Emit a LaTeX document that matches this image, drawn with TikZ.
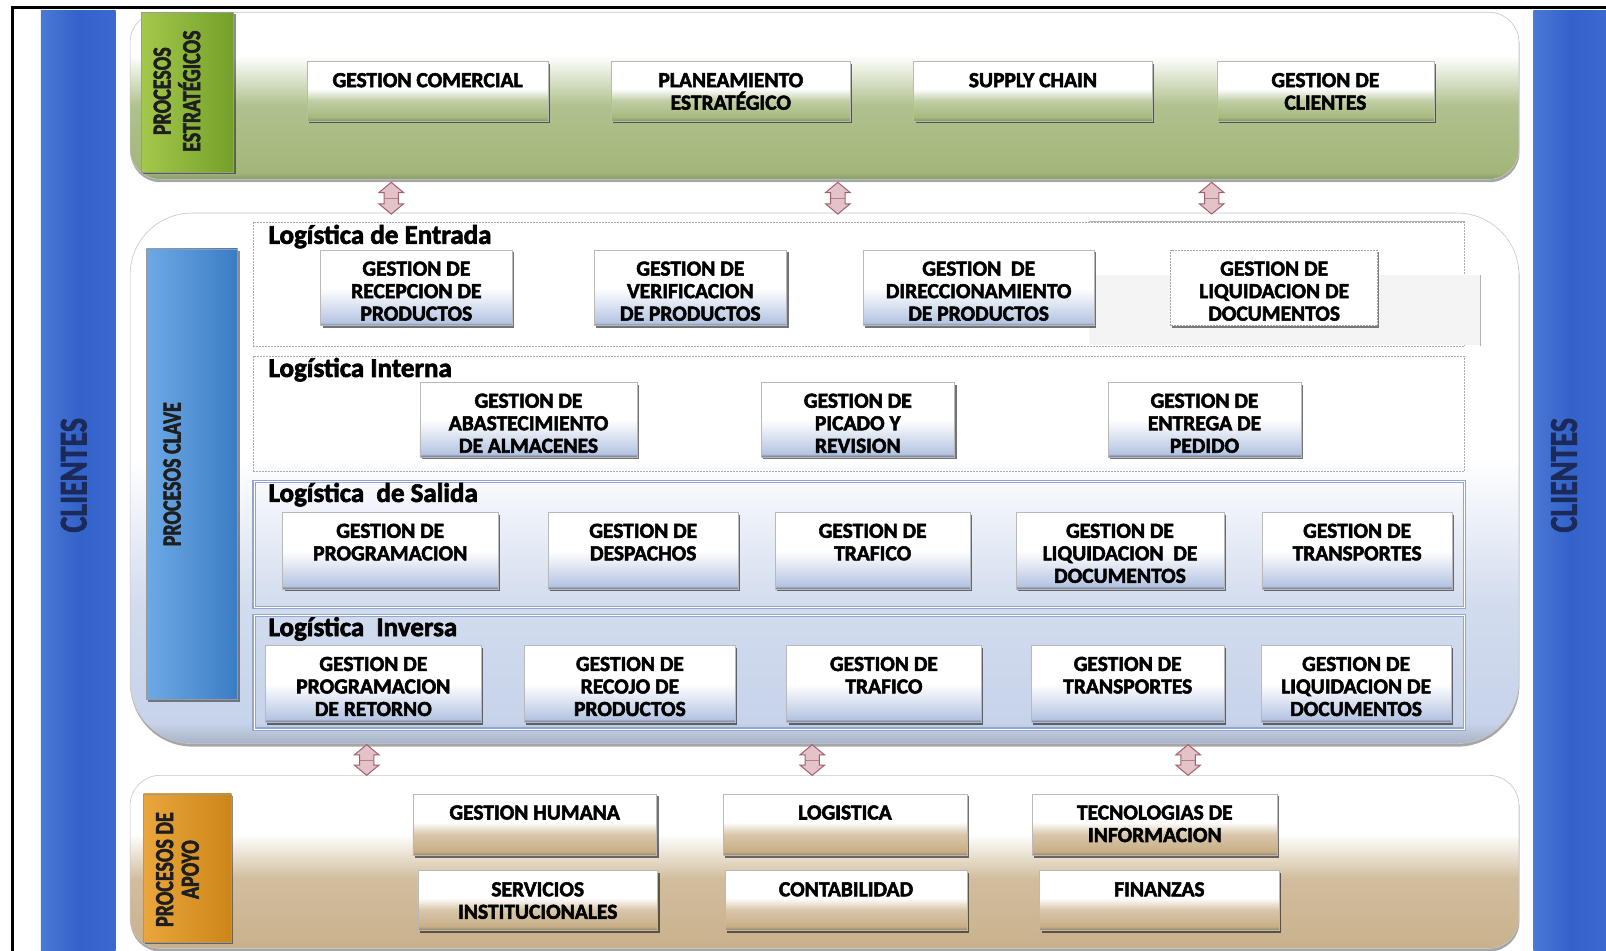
\documentclass[tikz,border=0pt]{standalone}
\usepackage{fontspec}
\setmainfont{Carlito}[BoldFont={Carlito Bold}, BoldFeatures={FakeBold=2.4}]
\usetikzlibrary{shadows,fit,calc}

% palette
\definecolor{cbL}{HTML}{4A78D6}
\definecolor{cbM}{HTML}{3363CA}
\definecolor{cbR}{HTML}{3A6AD0}
\definecolor{cltext}{HTML}{1B2A58}
\definecolor{gpanel}{HTML}{A2B67A}
\definecolor{gboxb}{HTML}{A6B97E}
\definecolor{glabL}{HTML}{A3C84B}
\definecolor{glabR}{HTML}{74A02A}
\definecolor{bpanel}{HTML}{C7D3EA}
\definecolor{bboxb}{HTML}{B4C4E2}
\definecolor{blabL}{HTML}{6DA9E4}
\definecolor{blabR}{HTML}{3A7CC4}
\definecolor{subline}{HTML}{93A6CC}
\definecolor{tpanel}{HTML}{C9B18C}
\definecolor{tboxb}{HTML}{C8AE86}
\definecolor{olabL}{HTML}{EAA63C}
\definecolor{olabR}{HTML}{CC8518}
\definecolor{arrfill}{HTML}{E3C2C8}
\definecolor{arrdraw}{HTML}{A0606E}
\definecolor{labtext}{HTML}{1E1E1E}

% vertical shadings: 25bp = bottom of the path, 75bp = top of the path
\pgfdeclareverticalshading{greenpanel}{100bp}{color(0bp)=(gpanel!85!black); color(25bp)=(gpanel!85!black); color(27bp)=(gpanel); color(47bp)=(gpanel!85!white); color(62bp)=(white); color(100bp)=(white)}
\pgfdeclareverticalshading{greenbox}{100bp}{color(0bp)=(gboxb!80!black); color(25bp)=(gboxb!80!black); color(28bp)=(gboxb); color(42bp)=(gboxb!70!white); color(52bp)=(white); color(100bp)=(white)}
\pgfdeclareverticalshading{bluepanel}{100bp}{color(0bp)=(bpanel!85!black); color(25bp)=(bpanel!85!black); color(27bp)=(bpanel); color(38bp)=(bpanel!80!white); color(52bp)=(white); color(100bp)=(white)}
\pgfdeclareverticalshading{bluebox}{100bp}{color(0bp)=(bboxb!60!black); color(25bp)=(bboxb!60!black); color(27bp)=(bboxb); color(38bp)=(bboxb!50!white); color(50bp)=(white); color(100bp)=(white)}
\pgfdeclareverticalshading{tanpanel}{100bp}{color(0bp)=(tpanel); color(25bp)=(tpanel); color(45bp)=(tpanel!85!white); color(58bp)=(white); color(100bp)=(white)}
\pgfdeclareverticalshading{tanbox}{100bp}{color(0bp)=(tboxb!75!black); color(25bp)=(tboxb!75!black); color(28bp)=(tboxb); color(42bp)=(tboxb!70!white); color(52bp)=(white); color(100bp)=(white)}

\tikzset{
  area/.style={inner sep=0pt, outer sep=0pt},
  clientbar/.style={area, left color=cbL, right color=cbR, middle color=cbM},
  clienttext/.style={rotate=90, inner sep=0pt, text=cltext, font=\bfseries\fontsize{30}{30}\selectfont},
  panel/.style={area, shade, draw=gray!45, line width=0.6pt,
    drop shadow={shadow xshift=0.5pt, shadow yshift=-3pt, fill=black, opacity=0.35}},
  greenpanel/.style={panel, shading=greenpanel, rounded corners=30pt},
  bluepanel/.style={panel, shading=bluepanel, rounded corners=62pt},
  tanpanel/.style={panel, shading=tanpanel, rounded corners=30pt},
  grouplabel/.style={area, draw=black!40, line width=0.4pt,
    drop shadow={shadow xshift=2pt, shadow yshift=-2pt, fill=black, opacity=0.45}},
  greenlabel/.style={grouplabel, left color=glabL, right color=glabR},
  bluelabel/.style={grouplabel, left color=blabL, right color=blabR},
  orangelabel/.style={grouplabel, left color=olabL, right color=olabR},
  labeltext/.style={rotate=90, inner sep=0pt, text=labtext, font=\bfseries\fontsize{20}{19.7}\selectfont},
  procbox/.style={area, shade, draw=gray!55, line width=0.5pt,
    drop shadow={shadow xshift=2pt, shadow yshift=-2.5pt, fill=black, opacity=0.55}},
  greenbox/.style={procbox, shading=greenbox},
  bluebox/.style={procbox, shading=bluebox},
  tanbox/.style={procbox, shading=tanbox},
  plainbox/.style={area, fill=white, draw=gray!70, dash pattern=on 2pt off 1pt, line width=0.6pt,
    drop shadow={shadow xshift=1.5pt, shadow yshift=-2pt, fill=black, opacity=0.5}},
  boxtext/.style={anchor=north, inner sep=0pt, align=center, text=black,
    font=\bfseries\fontsize{21.5}{22.5}\selectfont},
  subarea/.style={area, draw=gray!65, dash pattern=on 2pt off 1pt, line width=0.6pt},
  subareab/.style={area, draw=subline, line width=1.4pt, double=white, double distance=0.8pt},
  subtitle/.style={anchor=west, inner sep=0pt, text=black, font=\bfseries\fontsize{27}{27}\selectfont},
  linkarrow/.style={fill=arrfill, draw=arrdraw, line width=1pt, line join=miter},
  linkband/.style={draw=arrdraw!80, line width=0.8pt},
}

% a process box: name, style, x1, y1, x2, y2, text
\newcommand{\pbox}[7]{%
  \node[#2, fit={(#3,#4) (#5,#6)}] (#1) {};
  \node[boxtext] (#1-t) at ([yshift=-11.4pt]#1.north) {#7};
}

% a two-way block arrow between two levels: name, x, y top, y bottom
\newcommand{\linkarrow}[4]{%
  \coordinate (#1-a) at (#2,#3);
  \coordinate (#1-b) at (#2,#4);
  \draw[linkarrow] (#1-a) -- ($(#1-a)+(12,10)$) -- ($(#1-a)+(7,10)$) -- ($(#1-b)+(7,-10)$)
    -- ($(#1-b)+(12,-10)$) -- (#1-b) -- ($(#1-b)+(-12,-10)$) -- ($(#1-b)+(-7,-10)$)
    -- ($(#1-a)+(-7,10)$) -- ($(#1-a)+(-12,10)$) -- cycle;
  \draw[linkband] ($(#1-a)!0.5!(#1-b)+(-7,0)$) -- ($(#1-a)!0.5!(#1-b)+(7,0)$);
}

\begin{document}
\begin{tikzpicture}[x=1.0242pt, y=-1.0242pt]
\useasboundingbox (0,0) rectangle (1568,928);
\fill[white] (0,0) rectangle (1568,928);

% outer frame
\draw[line width=3.2pt] (12.5,928) -- (12.5,7) -- (1568,7);

% customer bars on both sides
\node[clientbar, fit={(40,10) (113,928)}] (cl) {};
\node[clientbar, fit={(1497,10) (1568,928)}] (cr) {};
\node[clienttext] (clt) at (72,464) {\scalebox{1}[1.3]{CLIENTES}};
\node[clienttext] (crt) at (1527,464) {\scalebox{1}[1.3]{CLIENTES}};

% ---------- strategic processes ----------
\node[greenpanel, fit={(127,12) (1483,175)}] (pe) {};
\node[greenlabel, fit={(138,12) (228,168)}] (pel) {};
\node[labeltext] (pelt) at (176,89) {\scalebox{1}[1.3]{\begin{tabular}{@{}c@{}}PROCESOS\\ESTRATÉGICOS\end{tabular}}};

\pbox{e1}{greenbox}{300}{60}{535}{118}{GESTION COMERCIAL}
\pbox{e2}{greenbox}{597}{60}{830}{118}{PLANEAMIENTO\\ESTRATÉGICO}
\pbox{e3}{greenbox}{892}{60}{1125}{118}{SUPPLY CHAIN}
\pbox{e4}{greenbox}{1188}{60}{1400}{118}{GESTION DE\\CLIENTES}

% ---------- key processes ----------
\node[bluepanel, fit={(127,208) (1483,726)}] (pc) {};
\node[bluelabel, fit={(143,243) (232,683)}] (pcl) {};
\node[labeltext] (pclt) at (168,463) {\scalebox{1}[1.3]{PROCESOS CLAVE}};

% inbound logistics
\node[subarea, fit={(247,217) (1430,338)}] (le) {};
\fill[gray!9] (1063,268) rectangle (1445,337);
\draw[gray!60, line width=0.6pt] (1063,216) -- (1430,216) (1445,268) -- (1445,338);
\node[subtitle] (let) at (262,231) {Logística de Entrada};
\pbox{le1}{bluebox}{313}{244}{500}{318}{GESTION DE\\RECEPCION DE\\PRODUCTOS}
\pbox{le2}{bluebox}{580}{244}{768}{318}{GESTION DE\\VERIFICACION\\DE PRODUCTOS}
\pbox{le3}{bluebox}{843}{244}{1068}{318}{GESTION\ \ DE\\DIRECCIONAMIENTO\\DE PRODUCTOS}
\pbox{le4}{plainbox}{1143}{244}{1345}{318}{GESTION DE\\LIQUIDACION DE\\DOCUMENTOS}

% internal logistics
\node[subarea, fit={(247,348) (1430,460)}] (li) {};
\node[subtitle] (lit) at (262,361) {Logística Interna};
\pbox{li1}{bluebox}{410}{373}{622}{446}{GESTION DE\\ABASTECIMIENTO\\DE ALMACENES}
\pbox{li2}{bluebox}{743}{373}{932}{446}{GESTION DE\\PICADO Y\\REVISION}
\pbox{li3}{bluebox}{1082}{373}{1270}{446}{GESTION DE\\ENTREGA DE\\PEDIDO}

% outbound logistics
\node[subareab, fit={(248,470) (1430,593)}] (ls) {};
\node[subtitle] (lst) at (262,483) {Logística\ \ de Salida};
\pbox{ls1}{bluebox}{276}{500}{486}{575}{GESTION DE\\PROGRAMACION}
\pbox{ls2}{bluebox}{535}{500}{721}{575}{GESTION DE\\DESPACHOS}
\pbox{ls3}{bluebox}{757}{500}{947}{575}{GESTION DE\\TRAFICO}
\pbox{ls4}{bluebox}{992}{500}{1195}{575}{GESTION DE\\LIQUIDACION\ \ DE\\DOCUMENTOS}
\pbox{ls5}{bluebox}{1232}{500}{1418}{575}{GESTION DE\\TRANSPORTES}

% reverse logistics
\node[subareab, fit={(248,601) (1430,712)}] (lv) {};
\node[subtitle] (lvt) at (262,614) {Logística\ \ Inversa};
\pbox{lv1}{bluebox}{259}{630}{470}{705}{GESTION DE\\PROGRAMACION\\DE RETORNO}
\pbox{lv2}{bluebox}{512}{630}{718}{705}{GESTION DE\\RECOJO DE\\PRODUCTOS}
\pbox{lv3}{bluebox}{768}{630}{958}{705}{GESTION DE\\TRAFICO}
\pbox{lv4}{bluebox}{1007}{630}{1195}{705}{GESTION DE\\TRANSPORTES}
\pbox{lv5}{bluebox}{1231}{630}{1417}{705}{GESTION DE\\LIQUIDACION DE\\DOCUMENTOS}

% ---------- support processes ----------
\node[tanpanel, fit={(127,757) (1483,926)}] (pa) {};
\node[orangelabel, fit={(140,775) (226,920)}] (pal) {};
\node[labeltext] (palt) at (176.5,849) {\scalebox{1}[1.3]{\begin{tabular}{@{}c@{}}\fontsize{20}{20.8}\selectfont PROCESOS DE\\APOYO\end{tabular}}};

\pbox{a1}{tanbox}{403}{775}{641}{835}{GESTION HUMANA}
\pbox{a2}{tanbox}{706}{775}{944}{835}{LOGISTICA}
\pbox{a3}{tanbox}{1008}{775}{1247}{835}{TECNOLOGIAS DE\\INFORMACION}
\pbox{a4}{tanbox}{408}{850}{642}{908}{SERVICIOS\\INSTITUCIONALES}
\pbox{a5}{tanbox}{708}{850}{944}{908}{CONTABILIDAD}
\pbox{a6}{tanbox}{1015}{850}{1249}{908}{FINANZAS}

% links between the three levels
\linkarrow{u1}{382}{178}{209}
\linkarrow{u2}{818}{178}{209}
\linkarrow{u3}{1183}{178}{209}
\linkarrow{d1}{358}{727}{757}
\linkarrow{d2}{793}{727}{757}
\linkarrow{d3}{1160}{727}{757}
\end{tikzpicture}
\end{document}
